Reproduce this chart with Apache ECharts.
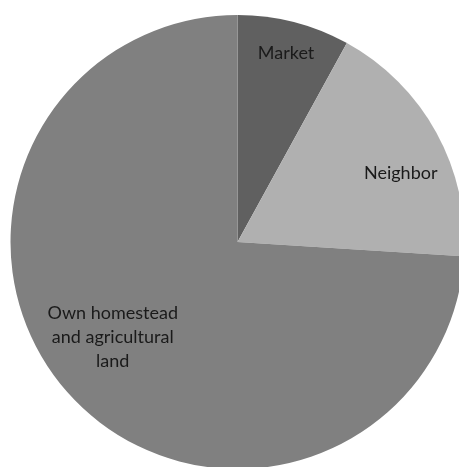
<!DOCTYPE html>
<html>
<head>
<meta charset="utf-8">
<script src="https://cdn.jsdelivr.net/npm/echarts@6/dist/echarts.min.js"></script>
<style>
  html, body { margin: 0; padding: 0; background: #ffffff; }
  #chart { width: 459px; height: 467px; }
</style>
</head>
<body>
<div id="chart"></div>
<script>
// Source of household supply, share in percent
const categories = ['Market', 'Neighbor', 'Own homestead\nand agricultural\nland'];
const shares = [8, 18, 74];
const sliceColors = ['#606060', '#b0b0b0', '#808080'];

// Pie geometry
const CX = 237.5, CY = 242, R = 227;
// Label anchors: shift from the slice's mid-angle (degrees) and fraction of the radius
const labelAngleShift = [0, 6, 6];
const labelRadiusFrac = [0.86, 0.78, 0.69];

const total = shares.reduce((a, b) => a + b, 0);
const midAngles = [];
let acc = 0;
shares.forEach(v => {
  midAngles.push((acc + v / 2) / total * 360);
  acc += v;
});

const chart = echarts.init(document.getElementById('chart'), null, { renderer: 'canvas' });
chart.setOption({
  animation: false,
  backgroundColor: '#ffffff',
  series: [{
    type: 'pie',
    center: [CX, CY],
    radius: [0, R],
    startAngle: 90,
    clockwise: true,
    avoidLabelOverlap: false,
    itemStyle: { borderWidth: 0 },
    emphasis: { disabled: true },
    label: {
      show: true,
      position: 'inside',
      color: '#1a1a1a',
      fontFamily: 'Lato',
      fontSize: 18,
      lineHeight: 24,
      align: 'center'
    },
    labelLine: { show: false },
    labelLayout: function (params) {
      const i = params.dataIndex;
      const a = (midAngles[i] + labelAngleShift[i]) * Math.PI / 180;
      const r = R * labelRadiusFrac[i];
      return {
        x: CX + r * Math.sin(a),
        y: CY - r * Math.cos(a),
        align: 'center',
        verticalAlign: 'middle'
      };
    },
    data: categories.map((name, i) => ({
      name: name,
      value: shares[i],
      itemStyle: { color: sliceColors[i] }
    }))
  }]
});
</script>
</body>
</html>
